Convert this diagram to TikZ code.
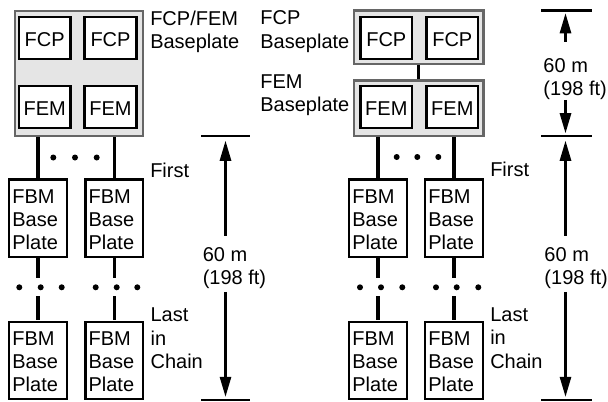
\documentclass[tikz,border=0pt]{standalone}
\usepackage{fontspec}
\setmainfont{Liberation Sans}
\usetikzlibrary{arrows.meta}
\newcommand{\fbmtext}{\rule{0pt}{0.59cm}FBM\\Base\\Plate\rule[-0.18cm]{0pt}{0.18cm}}
\tikzset{
  plate/.style={
    draw=black!60,
    fill=black!10,
    line width=1.7pt
  },
  modbox/.style={
    draw=black,
    fill=white,
    line width=1.7pt,
    minimum width=1.29cm,
    minimum height=1.05cm,
    inner sep=0pt,
    text height=0.44cm,
    text depth=0pt
  },
  fbmbox/.style={
    draw=black,
    fill=white,
    line width=1.7pt,
    text width=1.28cm,
    inner xsep=0.078cm,
    inner ysep=0pt,
    align=left
  },
  link/.style={line width=2.2pt},
  gaplink/.style={link, dash pattern=on 0.5cm off 0.45cm on 0.6cm off 0.2cm},
  tick/.style={line width=1.6pt},
  dimarrow/.style={
    -{Triangle[length=0.5cm,width=0.28cm]},
    line width=1.6pt
  },
  lbl/.style={anchor=north west, inner sep=0pt, align=left}
}

\begin{document}
\begin{tikzpicture}[x=0.025cm, y=-0.025cm, font=\fontsize{14.22pt}{16.57pt}\selectfont]
  \useasboundingbox (0,0) rectangle (608,402);

  % Left: one FCP/FEM baseplate
  \node[plate, minimum width=3.2cm, minimum height=3.125cm] (lplate) at (79,73.5) {};
  \node[modbox] (lfcp1) at (44.7,38) {FCP};
  \node[modbox] (lfcp2) at (110.5,38) {FCP};
  \node[modbox] (lfem1) at (44.7,106.7) {FEM};
  \node[modbox] (lfem2) at (110.5,106.7) {FEM};
  \node[lbl] (lplatelbl) at (150,10.7) {FCP/FEM\\Baseplate};

  \node[fbmbox] (lfbm1) at (38,218.2) {\fbmtext};
  \node[fbmbox] (lfbm2) at (114.2,218.2) {\fbmtext};
  \node[fbmbox] (lfbm3) at (38,360.4) {\fbmtext};
  \node[fbmbox] (lfbm4) at (114.2,360.4) {\fbmtext};
  \node[lbl] (lfirst) at (150,162.7) {First};
  \node[lbl] (llast) at (150.3,307.9) {Last\\in\\Chain};

  \draw[link] (lfbm1.north |- lplate.south) -- (lfbm1.north);
  \draw[link] (lfbm2.north |- lplate.south) -- (lfbm2.north);
  \draw[gaplink] (lfbm1.south) -- (lfbm3.north);
  \draw[gaplink] (lfbm2.south) -- (lfbm4.north);
  \foreach \x in {53.3,75,96.7}
    \fill (\x,157.5) circle[radius=0.075cm];
  \foreach \x in {19.3,40.7,61.7,95.7,116.7,137.3}
    \fill (\x,287.3) circle[radius=0.075cm];

  % Left dimension
  \coordinate (ltop) at (225.5,136);
  \coordinate (lbot) at (225.5,400);
  \draw[tick] ([xshift=-0.6cm]ltop) -- ([xshift=0.6cm]ltop);
  \draw[tick] ([xshift=-0.6cm]lbot) -- ([xshift=0.6cm]lbot);
  \node[lbl] (ldim) at (202.5,247.4) {60 m\\(198 ft)};
  \draw[dimarrow, shorten <=0.285cm, shorten >=0.12cm] (ldim.north -| ltop) -- (ltop);
  \draw[dimarrow, shorten <=0.06cm, shorten >=0.08cm] (ldim.south -| lbot) -- (lbot);

  % Right: separate FCP and FEM baseplates
  \node[plate, minimum width=3.225cm, minimum height=1.34cm] (rfcpplate) at (418.8,37.2) {};
  \node[plate, minimum width=3.225cm, minimum height=1.39cm] (rfemplate) at (418.8,108.2) {};
  \draw[link] (rfcpplate.south) -- (rfemplate.north);
  \node[modbox] (rfcp1) at (386.3,38) {FCP};
  \node[modbox] (rfcp2) at (452.3,38) {FCP};
  \node[modbox] (rfem1) at (386.3,106.7) {FEM};
  \node[modbox] (rfem2) at (452.3,106.7) {FEM};
  \node[lbl] (rfcplbl) at (260.1,10.7) {FCP\\Baseplate};
  \node[lbl] (rfemlbl) at (260.1,74) {FEM\\Baseplate};

  \node[fbmbox] (rfbm1) at (378,218.2) {\fbmtext};
  \node[fbmbox] (rfbm2) at (454,218.2) {\fbmtext};
  \node[fbmbox] (rfbm3) at (378,360.4) {\fbmtext};
  \node[fbmbox] (rfbm4) at (454,360.4) {\fbmtext};
  \node[lbl] (rfirst) at (490,162.2) {First};
  \node[lbl] (rlast) at (490,307.5) {Last\\in\\Chain};

  \draw[link] (rfbm1.north |- rfemplate.south) -- (rfbm1.north);
  \draw[link] (rfbm2.north |- rfemplate.south) -- (rfbm2.north);
  \draw[gaplink] (rfbm1.south) -- (rfbm3.north);
  \draw[gaplink] (rfbm2.south) -- (rfbm4.north);
  \foreach \x in {396.7,417.3,438.3}
    \fill (\x,157) circle[radius=0.075cm];
  \foreach \x in {360,381,402.3,436,456.7,478.3}
    \fill (\x,287.3) circle[radius=0.075cm];

  % Right dimensions
  \coordinate (rtop) at (565.5,10.5);
  \coordinate (rmid) at (565.5,136);
  \coordinate (rbot) at (565.5,400);
  \draw[tick] ([xshift=-0.6cm]rtop) -- ([xshift=0.65cm]rtop);
  \draw[tick] ([xshift=-0.6cm]rmid) -- ([xshift=0.65cm]rmid);
  \draw[tick] ([xshift=-0.6cm]rbot) -- ([xshift=0.65cm]rbot);
  \node[lbl] (rdimtop) at (543.2,58) {60 m\\(198 ft)};
  \draw[dimarrow, shorten <=0.41cm, shorten >=0.07cm] (rdimtop.north -| rtop) -- (rtop);
  \draw[dimarrow, shorten >=0.07cm] (rdimtop.south -| rmid) -- (rmid);
  \node[lbl] (rdim) at (544.2,247.4) {60 m\\(198 ft)};
  \draw[dimarrow, shorten <=0.285cm, shorten >=0.12cm] (rdim.north -| rmid) -- (rmid);
  \draw[dimarrow, shorten <=0.06cm, shorten >=0.08cm] (rdim.south -| rbot) -- (rbot);
\end{tikzpicture}
\end{document}
